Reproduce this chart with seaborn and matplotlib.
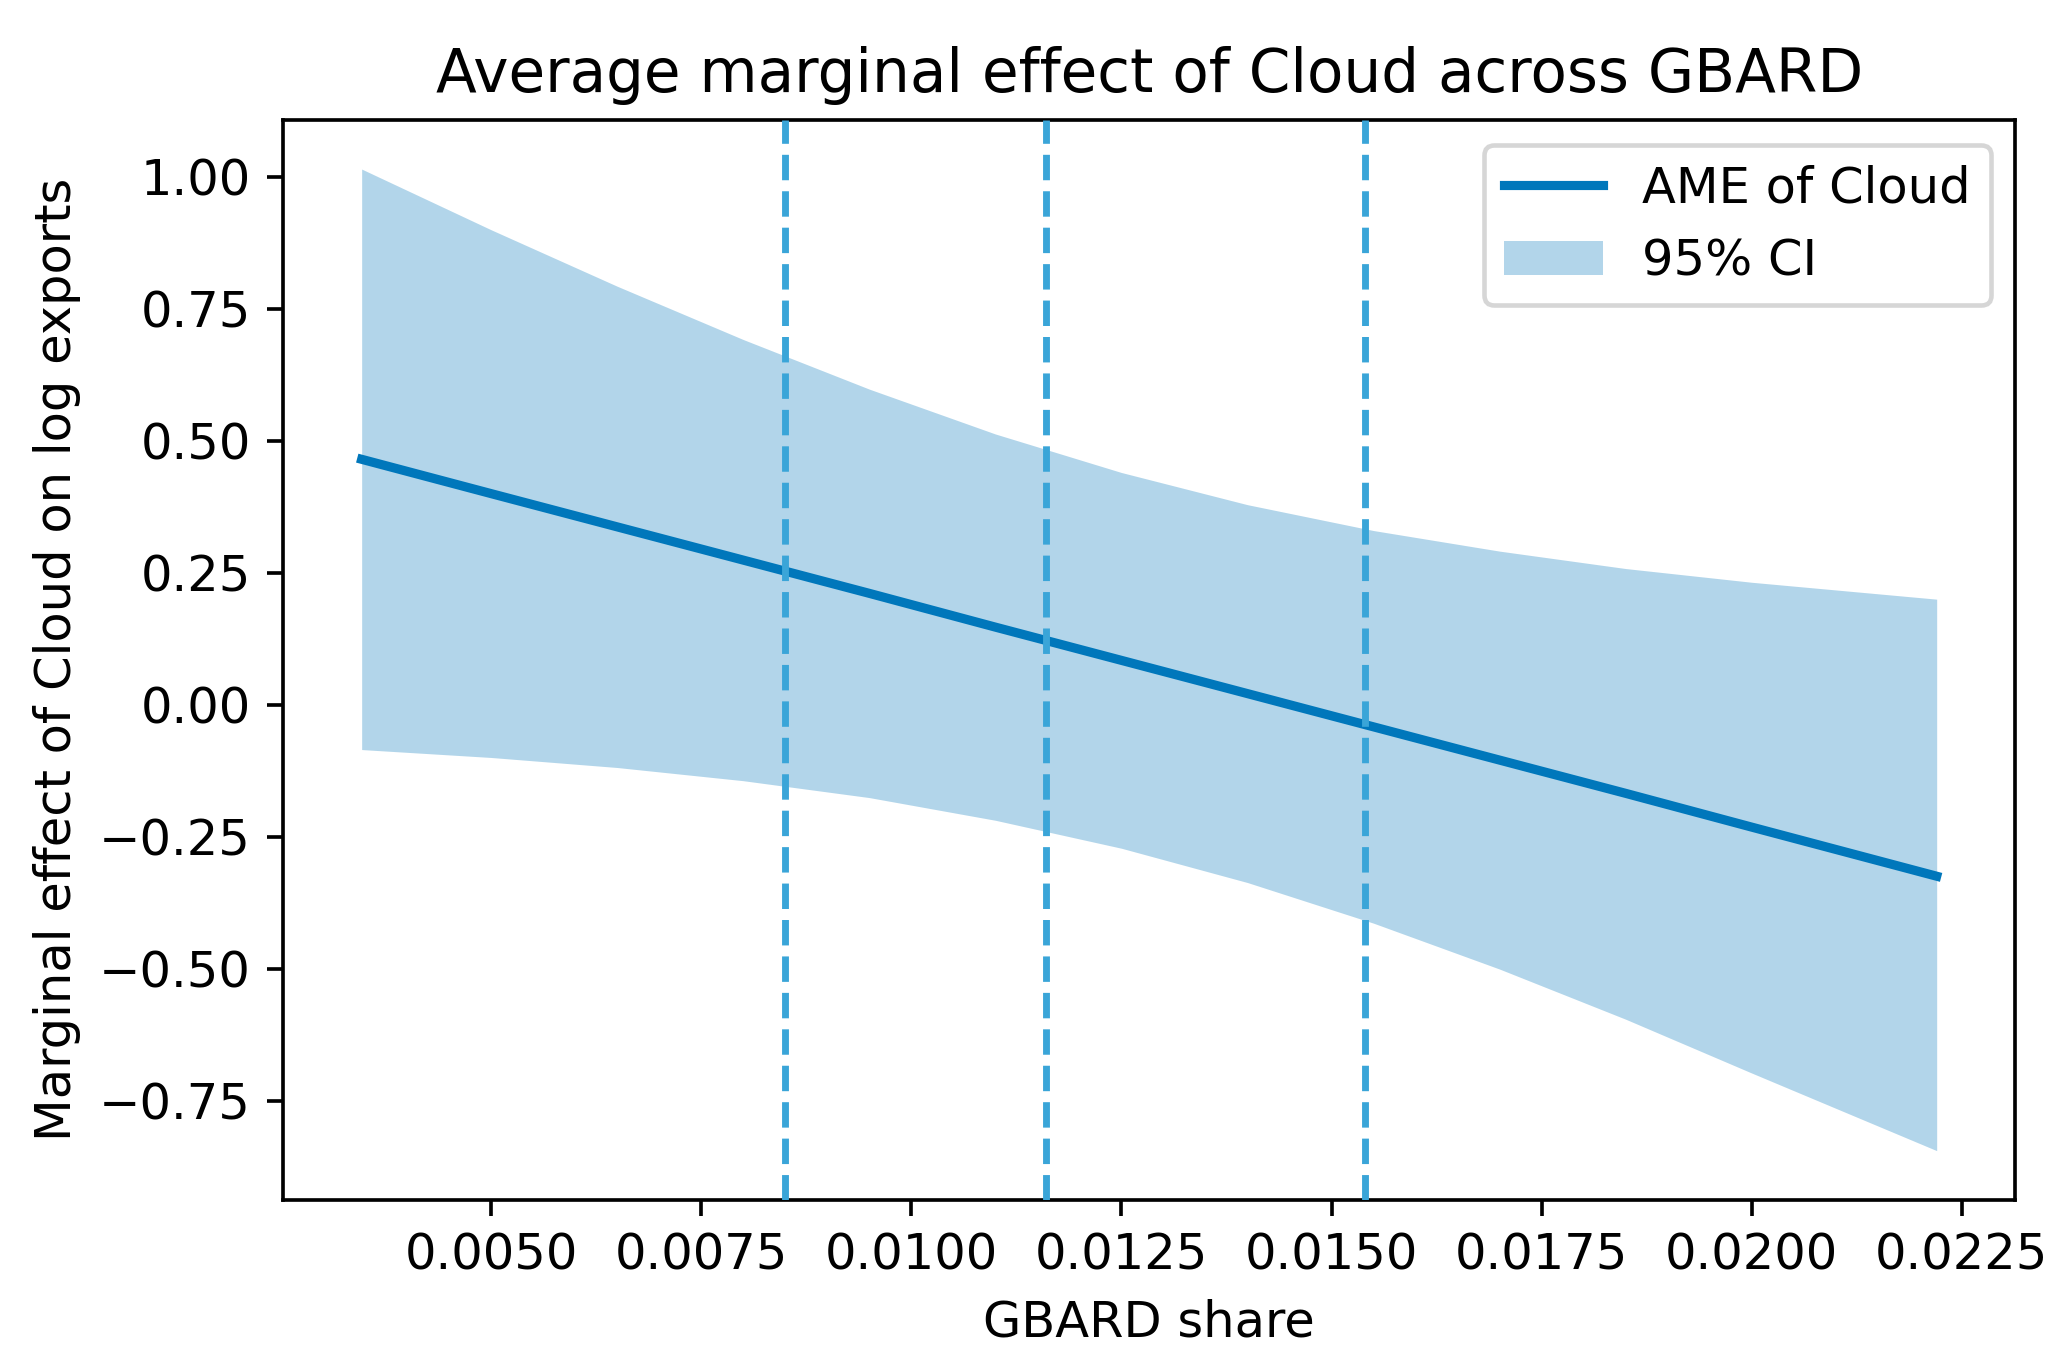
import numpy as np
import pandas as pd
import seaborn as sns
import matplotlib
matplotlib.use("Agg")
import matplotlib.pyplot as plt

# values
gbard_share = [0.00346, 0.0050, 0.0065, 0.0080, 0.0095, 0.0110, 0.0125,
               0.0140, 0.0155, 0.0170, 0.0185, 0.0200, 0.0222]
ame = [0.465, 0.400, 0.337, 0.274, 0.211, 0.147, 0.084,
       0.021, -0.042, -0.105, -0.168, -0.232, -0.325]
ci_upper = [1.015, 0.900, 0.793, 0.692, 0.598, 0.513, 0.440,
            0.379, 0.330, 0.291, 0.258, 0.232, 0.200]
ci_lower = [-0.085, -0.100, -0.119, -0.144, -0.176, -0.219, -0.272,
            -0.337, -0.414, -0.501, -0.596, -0.698, -0.845]
# dashed reference lines (GBARD share quartiles)
quartiles = [0.0085, 0.0116, 0.0154]

line_color = "#0077BB"
vline_color = "#3AA5D8"

df = pd.DataFrame({"GBARD share": gbard_share, "AME": ame,
                   "lo": ci_lower, "hi": ci_upper})

dpi = 330
fs = 10.8
fig, ax = plt.subplots(figsize=(2065 / dpi, 1348 / dpi), dpi=dpi)
fig.subplots_adjust(left=0.137, right=0.976, top=0.911, bottom=0.110)

sns.lineplot(data=df, x="GBARD share", y="AME", ax=ax, color=line_color,
             linewidth=2, label="AME of Cloud", zorder=3)
ax.fill_between(df["GBARD share"], df["lo"], df["hi"], color=line_color,
                alpha=0.3, linewidth=0, label="95% CI", zorder=1)

for q in quartiles:
    ax.axvline(q, color=vline_color, linestyle="--", linewidth=1.5, zorder=4)

ax.set_title("Average marginal effect of Cloud across GBARD", fontsize=13)
ax.set_xlabel("GBARD share", fontsize=fs)
ax.set_ylabel("Marginal effect of Cloud on log exports", fontsize=fs)
ax.set_xticks([0.005, 0.0075, 0.01, 0.0125, 0.015, 0.0175, 0.02, 0.0225])
ax.set_xticklabels(["0.0050", "0.0075", "0.0100", "0.0125", "0.0150",
                    "0.0175", "0.0200", "0.0225"])
ax.set_yticks([-0.75, -0.5, -0.25, 0, 0.25, 0.5, 0.75, 1.0])
ax.set_yticklabels(["\u22120.75", "\u22120.50", "\u22120.25", "0.00",
                    "0.25", "0.50", "0.75", "1.00"])
ax.tick_params(labelsize=fs)
ax.legend(loc="upper right", fontsize=fs)

fig.savefig("out.png", dpi=dpi)
